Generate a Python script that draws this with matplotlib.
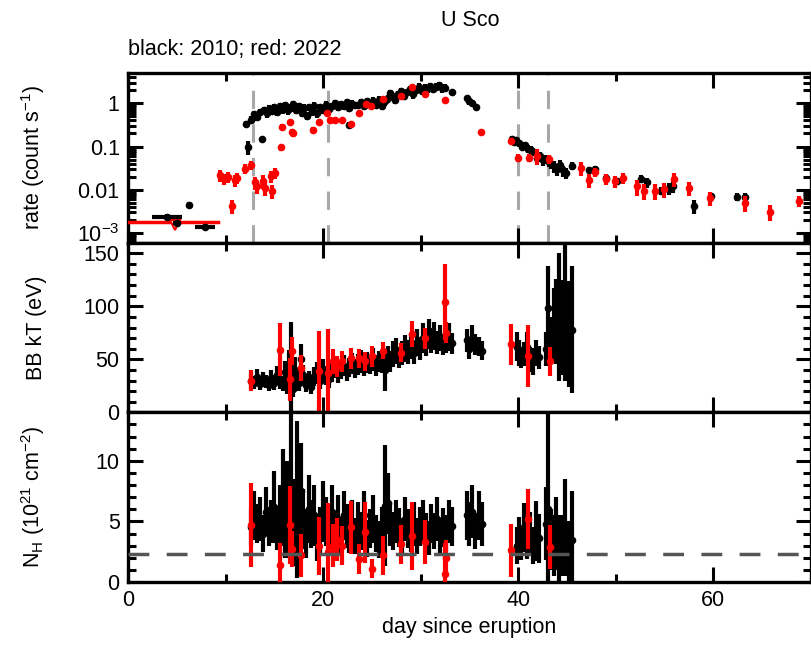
import numpy as np
import matplotlib
matplotlib.use('Agg')
import matplotlib.pyplot as plt
from matplotlib.ticker import MultipleLocator, LogLocator, FixedLocator, NullFormatter

plt.rcParams['font.family'] = ['Liberation Sans', 'DejaVu Sans']
plt.rcParams['mathtext.default'] = 'regular'
plt.rcParams['font.size'] = 15.5

# ---- count rate, 2010 (black) ----
bk_early_day = [4.0, 5.0, 6.3, 7.9]
bk_early_rate = [2.35e-3, 1.7e-3, 4.5e-3, 1.4e-3]
bk_early_xerr = [1.5, 0.4, 0.3, 1.0]

bk_day = [12.1, 12.3, 12.6, 12.9, 13.2, 13.5, 13.7, 13.9, 14.2, 14.5,
          14.8, 15.0, 15.3, 15.6, 15.9, 16.1, 16.4, 16.7, 16.9, 17.2,
          17.5, 17.8, 18.0, 18.3, 18.6, 18.9, 19.1, 19.4, 19.7, 20.0,
          20.3, 20.6, 20.9, 21.2, 21.5, 21.8, 22.1, 22.4, 22.6, 22.7,
          23.0, 23.3, 23.6, 23.9, 24.2, 24.5, 24.8, 25.1, 25.4, 25.7,
          26.0, 26.3, 26.6, 26.9, 27.1, 27.4, 27.7, 28.0, 28.3, 28.6,
          28.9, 29.2, 29.5, 29.8, 30.1, 30.4, 30.7, 31.0, 31.3, 31.6,
          31.9, 32.2, 32.5, 33.2, 34.7, 35.0, 35.3, 35.7,
          39.4, 39.6, 39.8, 40.1, 40.4, 40.7, 41.0, 41.3, 41.6, 41.9,
          42.2, 42.5, 42.8, 43.1, 43.4, 43.7, 44.0, 44.3, 44.6, 44.9,
          45.5, 47.2, 47.9, 49.0, 50.1, 52.6, 53.2, 54.6, 55.4, 55.9,
          58.0, 59.7, 62.4, 63.2]
bk_rate = [0.34, 0.10, 0.42, 0.55, 0.48, 0.62, 0.15, 0.70, 0.58, 0.75,
           0.66, 0.80, 0.62, 0.85, 0.72, 0.90, 0.68, 0.80, 0.95, 0.70,
           0.85, 0.60, 0.78, 0.52, 0.82, 0.65, 0.88, 0.58, 0.80, 0.70,
           0.92, 0.75, 0.85, 1.00, 0.82, 0.95, 0.88, 1.05, 0.32, 0.78,
           0.98, 0.90, 0.90, 1.05, 0.85, 1.10, 0.95, 1.15, 0.90, 1.20,
           0.85, 1.10, 1.30, 1.70, 1.50, 1.20, 1.60, 1.90, 1.45, 1.80,
           2.10, 1.60, 2.00, 2.40, 1.90, 2.30, 2.20, 2.50, 2.10, 2.40,
           2.60, 2.20, 2.30, 1.80, 1.30, 1.10, 1.00, 0.80,
           0.15, 0.13, 0.14, 0.12, 0.10, 0.11, 0.090, 0.085, 0.075, 0.055,
           0.060, 0.048, 0.052, 0.045, 0.040, 0.035, 0.030, 0.038, 0.028, 0.025,
           0.036, 0.029, 0.031, 0.019, 0.016, 0.018, 0.015, 0.0095, 0.011, 0.012,
           0.0042, 0.0072, 0.0069, 0.0069]
bk_rate_frac = [0.15, 0.35, 0.2, 0.2, 0.2, 0.2, 0.12, 0.2, 0.2, 0.2,
                0.2, 0.2, 0.2, 0.2, 0.2, 0.2, 0.2, 0.2, 0.2, 0.2,
                0.2, 0.2, 0.2, 0.2, 0.2, 0.2, 0.2, 0.2, 0.2, 0.2,
                0.2, 0.2, 0.2, 0.2, 0.2, 0.2, 0.2, 0.2, 0.15, 0.2,
                0.2, 0.2, 0.2, 0.2, 0.2, 0.2, 0.2, 0.2, 0.2, 0.2,
                0.2, 0.2, 0.2, 0.2, 0.2, 0.2, 0.2, 0.2, 0.2, 0.2,
                0.2, 0.2, 0.2, 0.2, 0.2, 0.2, 0.2, 0.2, 0.2, 0.2,
                0.2, 0.2, 0.2, 0.12, 0.15, 0.15, 0.15, 0.15,
                0.15, 0.15, 0.15, 0.18, 0.18, 0.18, 0.2, 0.2, 0.2, 0.25,
                0.25, 0.25, 0.25, 0.25, 0.25, 0.3, 0.3, 0.3, 0.3, 0.3,
                0.2, 0.15, 0.15, 0.2, 0.15, 0.2, 0.25, 0.2, 0.3, 0.3,
                0.35, 0.2, 0.2, 0.2]

# ---- count rate, 2022 (red) ----
rd_ul_day = [0.0, 9.2]
rd_ul_rate = 1.8e-3
rd_arrow_day = 4.8
rd_arrow_rate = 1.5e-3

rd_day = [9.4, 9.8, 10.2, 10.7, 11.0, 11.2, 12.0, 12.6, 13.0, 13.2,
          13.8, 14.0, 14.7, 14.8, 15.1, 15.7, 15.8, 16.6, 16.8, 16.9,
          19.0, 19.6, 20.4, 20.7, 21.2, 21.9, 22.9, 23.7, 24.4, 24.9,
          26.1, 28.0, 29.1, 30.4, 32.5, 36.2, 39.3, 40.0, 41.1, 41.9,
          43.1, 46.4, 47.2, 47.9, 49.0, 49.9, 50.7, 52.2, 52.9, 54.0,
          54.9, 56.0, 57.5, 59.6, 63.2, 65.8, 68.8]
rd_rate = [0.022, 0.018, 0.020, 0.0043, 0.017, 0.019, 0.031, 0.038, 0.015, 0.012,
           0.016, 0.011, 0.021, 0.0095, 0.025, 0.095, 0.29, 0.36, 0.22, 0.20,
           0.24, 0.36, 0.58, 0.40, 0.40, 0.42, 0.34, 0.58, 0.95, 0.85,
           1.24, 1.45, 2.35, 1.60, 1.17, 0.22, 0.137, 0.055, 0.055, 0.062,
           0.052, 0.032, 0.017, 0.026, 0.018, 0.016, 0.019, 0.012, 0.0095, 0.0095,
           0.0105, 0.018, 0.011, 0.0065, 0.005, 0.0031, 0.0056]
rd_rate_frac = [0.3, 0.3, 0.3, 0.35, 0.3, 0.3, 0.25, 0.25, 0.35, 0.35,
                0.35, 0.35, 0.3, 0.35, 0.3, 0.15, 0.12, 0.12, 0.15, 0.15,
                0.15, 0.12, 0.12, 0.12, 0.1, 0.1, 0.1, 0.1, 0.08, 0.08,
                0.08, 0.08, 0.08, 0.08, 0.1, 0.12, 0.12, 0.2, 0.2, 0.4,
                0.25, 0.35, 0.35, 0.25, 0.3, 0.3, 0.3, 0.4, 0.4, 0.4,
                0.4, 0.35, 0.35, 0.35, 0.4, 0.4, 0.3]

# ---- spectral fits, 2010 (black) ----
bk_spec_day = [12.6, 12.9, 13.2, 13.5, 13.8, 14.1, 14.4, 14.7, 15.0, 15.3,
               15.6, 15.9, 16.1, 16.3, 16.5, 16.7, 16.9, 17.1, 17.3, 17.5,
               17.7, 17.9, 18.2, 18.5, 18.8, 19.1, 19.4, 19.7, 20.0, 20.3,
               20.6, 20.9, 21.2, 21.5, 21.8, 22.1, 22.4, 22.7, 23.0, 23.3,
               23.6, 23.9, 24.2, 24.5, 24.8, 25.1, 25.4, 25.7, 26.0, 26.3,
               26.6, 26.9, 27.2, 27.5, 27.8, 28.1, 28.4, 28.7, 29.0, 29.3,
               29.6, 29.9, 30.2, 30.5, 30.8, 31.1, 31.4, 31.7, 32.0, 32.3,
               32.6, 32.9, 33.2, 34.7, 35.0, 35.3, 35.6, 36.0, 36.3, 39.9,
               40.1, 40.3, 40.6, 40.9, 41.2, 41.5, 41.8, 42.1, 42.8, 43.0,
               43.4, 43.7, 43.9, 44.2, 44.5, 44.8, 45.2, 45.5]
bk_kt = [30, 28, 33, 27, 31, 29, 26, 32, 28, 35,
         30, 27, 38, 25, 45, 40, 22, 40, 30, 28,
         50, 35, 26, 31, 24, 34, 37, 30, 40, 35,
         31, 38, 42, 36, 40, 44, 38, 42, 46, 41,
         45, 48, 43, 47, 45, 50, 44, 48, 46, 40,
         52, 48, 55, 58, 52, 56, 60, 57, 62, 56,
         66, 60, 70, 65, 74, 68, 72, 66, 70, 64,
         68, 71, 65, 68, 60, 70, 64, 62, 58, 62,
         56, 52, 55, 62, 50, 48, 56, 52, 60, 98,
         70, 82, 86, 90, 80, 110, 74, 78]
bk_kt_err = [7, 6, 8, 6, 7, 6, 6, 8, 7, 9,
             8, 7, 10, 8, 14, 45, 8, 12, 9, 8,
             14, 10, 7, 8, 7, 9, 10, 8, 10, 9,
             8, 9, 10, 8, 9, 10, 8, 9, 10, 9,
             10, 11, 9, 10, 9, 11, 10, 10, 9, 20,
             11, 10, 12, 12, 10, 11, 13, 11, 12, 10,
             13, 11, 14, 12, 14, 12, 13, 11, 12, 10,
             12, 13, 10, 11, 10, 12, 10, 9, 9, 14,
             12, 10, 11, 14, 12, 13, 12, 11, 16, 40,
             20, 35, 40, 60, 45, 80, 50, 60]
bk_nh = [4.5, 5.5, 4.8, 5.2, 4.0, 5.8, 4.6, 5.0, 6.2, 4.4,
         5.5, 7.0, 4.0, 6.5, 5.0, 8.0, 5.5, 3.8, 6.8, 4.5,
         7.5, 5.2, 4.0, 6.0, 4.8, 5.5, 3.5, 4.2, 5.8, 5.0,
         4.5, 5.8, 4.2, 5.2, 3.8, 5.5, 4.6, 4.0, 5.0, 3.8,
         4.8, 4.2, 5.5, 3.6, 4.4, 5.2, 4.0, 3.5, 4.6, 6.3,
         6.5, 4.8, 4.2, 5.0, 4.5, 3.8, 5.2, 4.4, 4.0, 4.8,
         3.8, 4.6, 5.0, 4.2, 3.6, 4.8, 4.2, 5.2, 3.8, 4.5,
         4.0, 5.0, 4.6, 5.5, 4.8, 5.8, 4.2, 5.5, 4.8, 3.0,
         3.8, 3.2, 4.5, 3.5, 4.0, 3.0, 4.2, 3.6, 4.8, 6.0,
         3.5, 3.0, 4.0, 2.5, 3.0, 4.5, 2.0, 3.5]
bk_nh_err = [1.5, 2.0, 1.6, 1.8, 1.5, 2.0, 1.6, 1.8, 3.0, 1.8,
             2.5, 4.0, 2.0, 3.5, 3.0, 6.0, 3.0, 2.5, 6.5, 3.0,
             4.0, 2.5, 2.0, 2.8, 2.0, 2.5, 1.8, 2.0, 2.5, 2.0,
             1.8, 2.2, 1.6, 2.0, 1.6, 2.0, 1.8, 1.6, 1.8, 1.5,
             1.8, 1.6, 2.0, 1.5, 1.6, 2.0, 1.5, 1.5, 1.6, 5.0,
             2.5, 1.8, 1.6, 1.8, 1.6, 1.5, 1.8, 1.6, 1.5, 1.8,
             1.5, 1.6, 1.8, 1.5, 1.4, 1.6, 1.5, 1.8, 1.4, 1.6,
             1.5, 1.8, 1.6, 2.0, 1.8, 2.2, 1.5, 2.0, 1.8, 1.5,
             1.6, 1.4, 2.0, 1.6, 1.8, 1.5, 2.5, 2.0, 3.0, 8.0,
             2.5, 2.5, 3.0, 3.0, 2.5, 4.0, 3.0, 4.0]

# ---- spectral fits, 2022 (red) ----
rd_spec_day = [12.6, 15.6, 16.6, 16.8, 17.7, 19.6, 20.5, 21.0, 21.4, 21.9,
               22.9, 23.7, 24.3, 25.0, 26.1, 28.0, 29.1, 30.4, 32.5, 32.6,
               39.3, 41.0, 43.3]
rd_kt = [30, 59, 31, 58, 42, 39, 37, 48, 43, 48,
         51, 51, 48, 53, 58, 56, 74, 70, 104, 75,
         64, 53, 48]
rd_kt_err = [10, 25, 20, 13, 12, 38, 42, 12, 10, 10,
             10, 9, 9, 10, 8, 9, 12, 10, 36, 10,
             19, 29, 14]
rd_nh = [4.7, 1.4, 4.7, 2.7, 2.2, 3.0, 2.5, 3.0, 3.5, 3.0,
         4.5, 1.9, 4.1, 1.1, 2.2, 3.1, 3.8, 3.3, 0.7, 2.0,
         2.6, 5.2, 2.9]
rd_nh_err = [3.5, 1.8, 3.2, 1.5, 1.8, 2.4, 4.0, 1.8, 1.8, 1.6,
             2.2, 1.2, 2.5, 0.8, 1.6, 1.6, 2.8, 1.8, 2.5, 1.5,
             2.2, 2.5, 1.8]

swap_days = [12.8, 20.5, 40.0, 43.0]
nh_ism = 2.3

RED = '#ff0000'
eb = dict(fmt='o', ms=5.5, elinewidth=3.0, capsize=0, mew=0)

fig = plt.figure(figsize=(8.12, 6.5), dpi=100)
left, right = 128 / 812, 811 / 812
bot, top = 1 - 582 / 650, 1 - 73 / 650
h = (top - bot) / 3
ax1 = fig.add_axes([left, bot + 2 * h, right - left, h])
ax2 = fig.add_axes([left, bot + h, right - left, h], sharex=ax1)
ax3 = fig.add_axes([left, bot, right - left, h], sharex=ax1)

# top: count rate
for d in swap_days:
    ax1.axvline(d, color='#a8a8a8', lw=2.2, dashes=(6, 5), zorder=1)
ax1.plot(rd_ul_day, [rd_ul_rate, rd_ul_rate], color=RED, lw=2.5, zorder=3)
ax1.plot([rd_arrow_day], [rd_arrow_rate], marker='v', ms=7, mfc='white', mec=RED, mew=1.5, zorder=3)
ax1.errorbar(bk_early_day, bk_early_rate, xerr=bk_early_xerr,
             yerr=np.array(bk_early_rate) * 0.15, color='k', zorder=4, **eb)
ax1.errorbar(bk_day, bk_rate, yerr=np.array(bk_rate) * np.array(bk_rate_frac),
             color='k', zorder=4, **eb)
ax1.errorbar(rd_day, rd_rate, yerr=np.array(rd_rate) * np.array(rd_rate_frac),
             color=RED, zorder=5, **eb)
ax1.set_yscale('log')
ax1.set_ylim(6e-4, 5)
ax1.yaxis.set_major_locator(FixedLocator([1e-3, 1e-2, 0.1, 1]))
ax1.set_yticklabels(['10$^{-3}$', '0.01', '0.1', '1'])
ax1.yaxis.set_minor_locator(LogLocator(base=10, subs=np.arange(2, 10), numticks=20))
ax1.yaxis.set_minor_formatter(NullFormatter())
ax1.set_ylabel('rate (count s$^{-1}$)')

# middle: blackbody temperature
ax2.errorbar(bk_spec_day, bk_kt, yerr=bk_kt_err, color='k', zorder=4, **eb)
ax2.errorbar(rd_spec_day, rd_kt, yerr=rd_kt_err, color=RED, zorder=5, **eb)
ax2.set_ylim(0, 160)
ax2.yaxis.set_major_locator(MultipleLocator(50))
ax2.yaxis.set_minor_locator(MultipleLocator(10))
ax2.set_ylabel('BB kT (eV)')

# bottom: column density
ax3.axhline(nh_ism, color='#555555', lw=2.5, dashes=(6, 5), zorder=6)
ax3.errorbar(bk_spec_day, bk_nh, yerr=bk_nh_err, color='k', zorder=4, **eb)
ax3.errorbar(rd_spec_day, rd_nh, yerr=rd_nh_err, color=RED, zorder=5, **eb)
ax3.set_ylim(0, 14)
ax3.yaxis.set_major_locator(MultipleLocator(5))
ax3.yaxis.set_minor_locator(MultipleLocator(1))
ax3.set_ylabel('N$_H$ (10$^{21}$ cm$^{-2}$)')
ax3.set_xlabel('day since eruption')

ax1.set_xlim(0, 70)
ax1.xaxis.set_major_locator(MultipleLocator(20))
ax1.xaxis.set_minor_locator(MultipleLocator(10))

for ax in (ax1, ax2, ax3):
    for s in ax.spines.values():
        s.set_linewidth(2.4)
    ax.tick_params(which='both', direction='in', top=True, right=True, width=2.2)
    ax.tick_params(which='major', length=11, pad=6)
    ax.tick_params(which='minor', length=6)
    ax.yaxis.set_label_coords(-0.118, 0.5)
for ax in (ax1, ax2):
    ax.tick_params(labelbottom=False)

fig.text(470 / 812, 1 - 20 / 650, 'U Sco', ha='center', va='center', fontsize=15.5)
fig.text(128 / 812, 1 - 50 / 650, 'black: 2010; red: 2022', ha='left', va='center', fontsize=15.5)

fig.savefig('out.png', dpi=100)
